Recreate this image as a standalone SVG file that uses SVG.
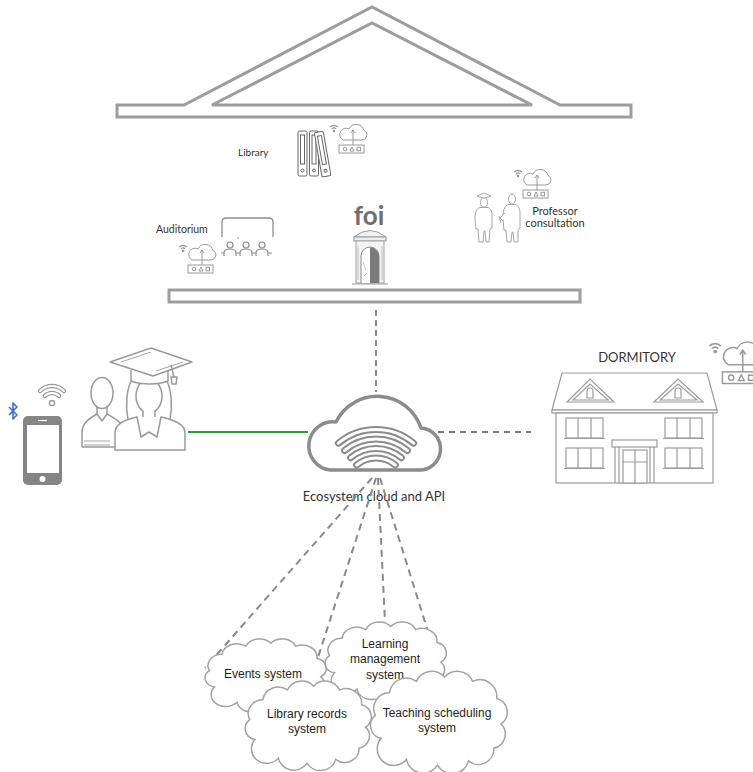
<svg xmlns="http://www.w3.org/2000/svg" xmlns:xlink="http://www.w3.org/1999/xlink" width="753" height="772" viewBox="0 0 753 772">
  <style>
    .frame { fill: #fff; stroke: #9d9d9d; stroke-width: 3; stroke-linejoin: miter; }
    .lbl { font-family: Lato, "Liberation Sans", sans-serif; fill: #333; }
    .sys { font-family: "Liberation Sans", Arial, sans-serif; font-size: 12px; fill: #1e1e1e; text-anchor: middle; }
    .dash { fill: none; stroke: #8a8a8a; stroke-width: 2; stroke-dasharray: 7 5; }
    .icon { fill: #fff; stroke: #9a9a9a; stroke-width: 1; }
    .sketch { fill: #fff; stroke: #a6a6a6; stroke-width: 1; }
    .fig { fill: #fff; stroke: #9a9a9a; stroke-width: 1.5; stroke-linejoin: round; }
    .house { fill: #fff; stroke: #9c9c9c; stroke-width: 1.2; }
    .bubble { fill: #fff; stroke: #a3a3a3; stroke-width: 1.5; }
    .waveOuter { fill: none; stroke: #8c8c8c; stroke-width: 7; stroke-linecap: round; }
    .waveInner { fill: none; stroke: #fff; stroke-width: 3; stroke-linecap: round; }
    .wsOuter { fill: none; stroke: #9a9a9a; stroke-width: 4.5; stroke-linecap: round; }
    .wsInner { fill: none; stroke: #fff; stroke-width: 2; stroke-linecap: round; }
  </style>
  <defs>
    <!-- small wifi + cloud + router badge -->
    <g id="iot">
      <circle cx="-4" cy="8" r="1.3" fill="#9a9a9a" stroke="none"/>
      <path d="M-6.1,5.9 A3,3 0 0 1 -1.9,5.9 M-7.9,4.1 A5.5,5.5 0 0 1 -0.1,4.1" fill="none" stroke="#9a9a9a" stroke-width="1.3"/>
      <path class="icon" d="M5,17 H24 A5,5 0 0 0 26,7.5 A8,8 0 0 0 11,6 A5.5,5.5 0 0 0 5,17 Z"/>
      <path d="M15,25 V7 M13,10 L15,7 L17,10" fill="none" stroke="#9a9a9a" stroke-width="1"/>
      <rect class="icon" x="1" y="22" width="25" height="8"/>
      <circle class="icon" cx="7" cy="26" r="1.8"/>
      <path class="icon" d="M12,28 L14,24 L16,28 Z"/>
      <rect class="icon" x="19" y="24.3" width="3.5" height="3.5"/>
    </g>
    <!-- bumpy cloud outline in a 100 x 70 box -->
    <path id="puff" vector-effect="non-scaling-stroke" d="M10,48 A9,9 0 0 1 6,32 A11,11 0 0 1 16,16 A12,12 0 0 1 35,8 A12,12 0 0 1 55,5 A12,12 0 0 1 75,8 A12,12 0 0 1 92,20 A10,10 0 0 1 95,38 A10,10 0 0 1 90,55 A11,11 0 0 1 72,64 A12,12 0 0 1 50,67 A12,12 0 0 1 28,63 A10,10 0 0 1 10,48 Z"/>
    <!-- wifi bands of the central cloud -->
    <g id="waves">
      <path d="M356.7,465 A30,30 0 0 1 395.3,465"/>
      <path d="M350.6,457.7 A39.5,39.5 0 0 1 401.4,457.7"/>
      <path d="M344.5,450.5 A49,49 0 0 1 407.5,450.5"/>
      <path d="M338.4,443.2 A58.5,58.5 0 0 1 413.6,443.2"/>
    </g>
    <g id="phoneWaves">
      <path d="M44.9,395.9 A10,10 0 0 1 59.1,395.9"/>
      <path d="M40,391 A17,17 0 0 1 64,391"/>
    </g>
  </defs>

  <!-- campus building -->
  <g id="campus">
    <path class="frame" d="M117,105 H184 L372,7 L560,105 H631 V117 H117 Z"/>
    <path class="frame" d="M212,105 L372,23 L532,105 Z"/>
    <rect class="frame" x="169" y="290" width="411" height="12"/>
  </g>

  <!-- library -->
  <g id="library">
    <text class="lbl" x="238" y="156" font-size="10">Library</text>
    <g fill="#fff" stroke="#666" stroke-width="1">
      <rect x="298" y="131" width="9" height="45" rx="1.5"/>
      <rect x="300.5" y="135" width="4" height="29"/>
      <circle cx="302.5" cy="170.5" r="1.5"/>
      <rect x="309.5" y="131" width="9" height="45" rx="1.5"/>
      <rect x="312" y="135" width="4" height="29"/>
      <circle cx="314" cy="170.5" r="1.5"/>
      <g transform="rotate(-10 328 176)">
        <rect x="322" y="131" width="9" height="45" rx="1.5"/>
        <rect x="324.5" y="135" width="4" height="29"/>
        <circle cx="326.5" cy="170.5" r="1.5"/>
      </g>
    </g>
    <use xlink:href="#iot" transform="translate(338,123)"/>
  </g>

  <!-- auditorium -->
  <g id="auditorium">
    <text class="lbl" x="156" y="233" font-size="10.5">Auditorium</text>
    <path d="M222,237 V222 Q222,218 226,218 H269 Q273,218 273,222 V237" fill="none" stroke="#8f8f8f" stroke-width="1.3"/>
    <circle cx="238" cy="238" r="0.8" fill="#888"/>
    <g fill="#fff" stroke="#8f8f8f" stroke-width="1.2">
      <circle cx="230" cy="245" r="3"/>
      <path d="M224,256 V253 Q224,249 230,249 Q236,249 236,253 V256"/>
      <circle cx="246" cy="245" r="3"/>
      <path d="M240,256 V253 Q240,249 246,249 Q252,249 252,253 V256"/>
      <circle cx="262" cy="245" r="3"/>
      <path d="M256,256 V253 Q256,249 262,249 Q268,249 268,253 V256"/>
      <path d="M221,253 H224 M236,253 H240 M252,253 H256 M268,253 H272" fill="none"/>
    </g>
    <use xlink:href="#iot" transform="translate(187,243)"/>
  </g>

  <!-- faculty entrance -->
  <g id="foi">
    <text x="369" y="225" font-family="Lato, 'Liberation Sans', sans-serif" font-weight="bold" font-size="26" fill="#6f6f6f" text-anchor="middle">foi</text>
    <path d="M354,237 Q370,224 386,237 Z" fill="#f2f2f2" stroke="#9a9a9a" stroke-width="1"/>
    <rect x="354" y="237" width="32" height="4" fill="#eee" stroke="#9a9a9a" stroke-width="1"/>
    <rect x="356" y="241" width="28" height="42" fill="#f4f4f4" stroke="#a0a0a0" stroke-width="1"/>
    <path d="M361,283 V256 A9,9 0 0 1 379,256 V283" fill="#fff" stroke="#8a8a8a" stroke-width="1"/>
    <path d="M370,283 V247.5 A9,9 0 0 1 379,256 V283 Z" fill="#7a7a7a"/>
    <path d="M358,246 V280 M382,246 V280 M363,262 L366,270 M364,276 L367,273" stroke="#b5b5b5" stroke-width="0.8" fill="none"/>
    <path d="M352,284 H388" stroke="#999" stroke-width="1.2"/>
  </g>

  <!-- professor consultation -->
  <g id="professor">
    <use xlink:href="#iot" transform="translate(522,168)"/>
    <g class="sketch">
      <path d="M477,196 L484,193 L491,196 L484,198.5 Z"/>
      <ellipse cx="484" cy="202.5" rx="3.5" ry="4.5"/>
      <path d="M480,207.5 C476,209 475,213 475,219 L476,229 L478,229 L479,242 L483,242 L484,231 L485,231 L486,242 L489,242 L490,229 L492,228 L492,215 C492,210 490,208.5 488,207.5 Z"/>
      <ellipse cx="512" cy="199" rx="3.5" ry="5"/>
      <path d="M508.5,204.5 C504,206 503,211 503,219 L504,230 L506,230 L507,242 L511,242 L512,232 L513,232 L514,242 L518,242 L518,230 L520,228 L520,213 C520,208 518,206 515.5,204.5 Z"/>
      <path d="M505,213 L500,218 L503,221 M499,216 L501,223"/>
    </g>
    <text class="lbl" font-size="11" text-anchor="middle"><tspan x="555" y="215">Professor</tspan><tspan x="555" y="227">consultation</tspan></text>
  </g>

  <!-- phone -->
  <g id="phone">
    <path d="M9,407 L17,415 L13,419 V403 L17,407 L9,415" fill="none" stroke="#3a6fc4" stroke-width="1.6" stroke-linejoin="round"/>
    <use xlink:href="#phoneWaves" class="wsOuter"/>
    <use xlink:href="#phoneWaves" class="wsInner"/>
    <circle cx="52" cy="403" r="2.6" fill="#fff" stroke="#9a9a9a" stroke-width="1.5"/>
    <rect x="23" y="416" width="39" height="69" rx="5" fill="#858585"/>
    <rect x="27" y="425" width="32" height="48" fill="#fff"/>
    <path d="M38,420.5 H47" stroke="#fff" stroke-width="1.2"/>
    <circle cx="42.5" cy="479" r="3" fill="#fff"/>
  </g>

  <!-- students -->
  <g id="students">
    <ellipse class="fig" cx="102" cy="393" rx="11" ry="15.5"/>
    <path class="fig" d="M97,407 V414 M107,407 V414" fill="none"/>
    <path class="fig" d="M82,447 V432 C82,423 90,418 97,414 L102,421 L107,414 C114,418 122,422 124,430 V447 Z"/>
    <path d="M84,441 H110 M84,445 H110" stroke="#a5a5a5" stroke-width="1" fill="none"/>
    <path class="fig" d="M128,420 C125,405 127,390 131,381 L167,381 C171,390 173,405 170,420 Z"/>
    <ellipse class="fig" cx="149" cy="396" rx="13" ry="17"/>
    <path class="fig" d="M115,450 V433 C115,424 124,420 137,417 L149,432 L161,417 C174,420 185,424 185,433 V450 Z"/>
    <path class="fig" d="M143,411 V421 L149,428 L155,421 V411" fill="none"/>
    <path class="fig" d="M137,417 L141,437 L149,432 L157,437 L161,417" fill="none"/>
    <path class="fig" d="M131,370 V381 C140,385 159,385 168,381 V370" />
    <path class="fig" d="M110,362 L151,348 L192,362 L153,376 Z"/>
    <path d="M121,362 L151,352 M183,362 L156,371" stroke="#a5a5a5" stroke-width="1" fill="none"/>
    <path class="fig" d="M171,365 L174,377 M171,377 L177,377 L176,384 L172,384 Z"/>
  </g>

  <!-- dormitory -->
  <g id="dormitory">
    <text class="lbl" x="637" y="362" font-size="13" text-anchor="middle" fill="#444">DORMITORY</text>
    <use xlink:href="#iot" transform="translate(721,340) scale(1.45)"/>
    <path class="house" d="M562,373 H707 L717,410 H552 Z"/>
    <rect class="house" x="552" y="410" width="165" height="3"/>
    <rect class="house" x="556" y="413" width="157" height="70"/>
    <path class="house" d="M567,402 L590,379 L614,402 Z M573,400 L590,384 L608,400 Z"/>
    <path class="house" d="M587,398 V391 A3,3 0 0 1 593,391 V398 Z"/>
    <path class="house" d="M654,402 L678,379 L703,402 Z M660,400 L678,384 L697,400 Z"/>
    <path class="house" d="M675,398 V391 A3,3 0 0 1 681,391 V398 Z"/>
    <g>
      <rect class="house" x="566" y="418" width="37" height="20"/>
      <path class="house" d="M578,418 V438 M591,418 V438 M564,438.5 H605"/>
      <rect class="house" x="665" y="418" width="37" height="20"/>
      <path class="house" d="M677,418 V438 M690,418 V438 M663,438.5 H704"/>
      <rect class="house" x="566" y="448" width="37" height="20"/>
      <path class="house" d="M578,448 V468 M591,448 V468 M564,468.5 H605"/>
      <rect class="house" x="665" y="448" width="37" height="20"/>
      <path class="house" d="M677,448 V468 M690,448 V468 M663,468.5 H704"/>
    </g>
    <rect class="house" x="612" y="440" width="45" height="7"/>
    <path class="house" d="M615,447 V483 M619,447 V483 M650,447 V483 M654,447 V483"/>
    <rect class="house" x="623" y="450" width="24" height="33"/>
    <path class="house" d="M635,450 V483 M623,462 H647"/>
  </g>

  <!-- central cloud -->
  <g id="ecosystem">
    <path d="M330,470 H418 A21,21 0 0 0 421,428 A46,46 0 0 0 336,422 A24,24 0 0 0 330,470 Z" fill="#fff" stroke="#8c8c8c" stroke-width="3.5" stroke-linejoin="round"/>
    <use xlink:href="#waves" class="waveOuter"/>
    <use xlink:href="#waves" class="waveInner"/>
  </g>

  <text id="ecosystem-label" class="lbl" x="374" y="501" font-size="13" text-anchor="middle">Ecosystem cloud and API</text>

  <!-- links -->
  <g id="connectors">
    <path d="M376,310 V392" fill="none" stroke="#8a8a8a" stroke-width="2" stroke-dasharray="6 4"/>
    <path d="M188,432 H308" stroke="#2e9a3a" stroke-width="2"/>
    <path d="M438,432 H531" fill="none" stroke="#7a7a7a" stroke-width="2" stroke-dasharray="6 5"/>
    <path class="dash" d="M372,478 L205,668"/>
    <path class="dash" d="M376,478 L310,682"/>
    <path class="dash" d="M378,478 L385,622"/>
    <path class="dash" d="M380,478 L440,670"/>
  </g>

  <!-- back-end systems -->
  <g id="events">
    <use xlink:href="#puff" class="bubble" transform="translate(202,638) scale(1.25,1.02)"/>
    <text class="sys" x="263" y="678">Events system</text>
  </g>
  <g id="learning">
    <use xlink:href="#puff" class="bubble" transform="translate(322,621) scale(1.25,1.08)"/>
    <text class="sys"><tspan x="385" y="648">Learning</tspan><tspan x="385" y="663">management</tspan><tspan x="385" y="679">system</tspan></text>
  </g>
  <g id="library-records">
    <use xlink:href="#puff" class="bubble" transform="translate(242,680) scale(1.3,1.24)"/>
    <text class="sys"><tspan x="307" y="718">Library records</tspan><tspan x="307" y="733">system</tspan></text>
  </g>
  <g id="teaching">
    <use xlink:href="#puff" class="bubble" transform="translate(367,670) scale(1.41,1.42)"/>
    <text class="sys"><tspan x="437" y="717">Teaching scheduling</tspan><tspan x="437" y="732">system</tspan></text>
  </g>
</svg>
